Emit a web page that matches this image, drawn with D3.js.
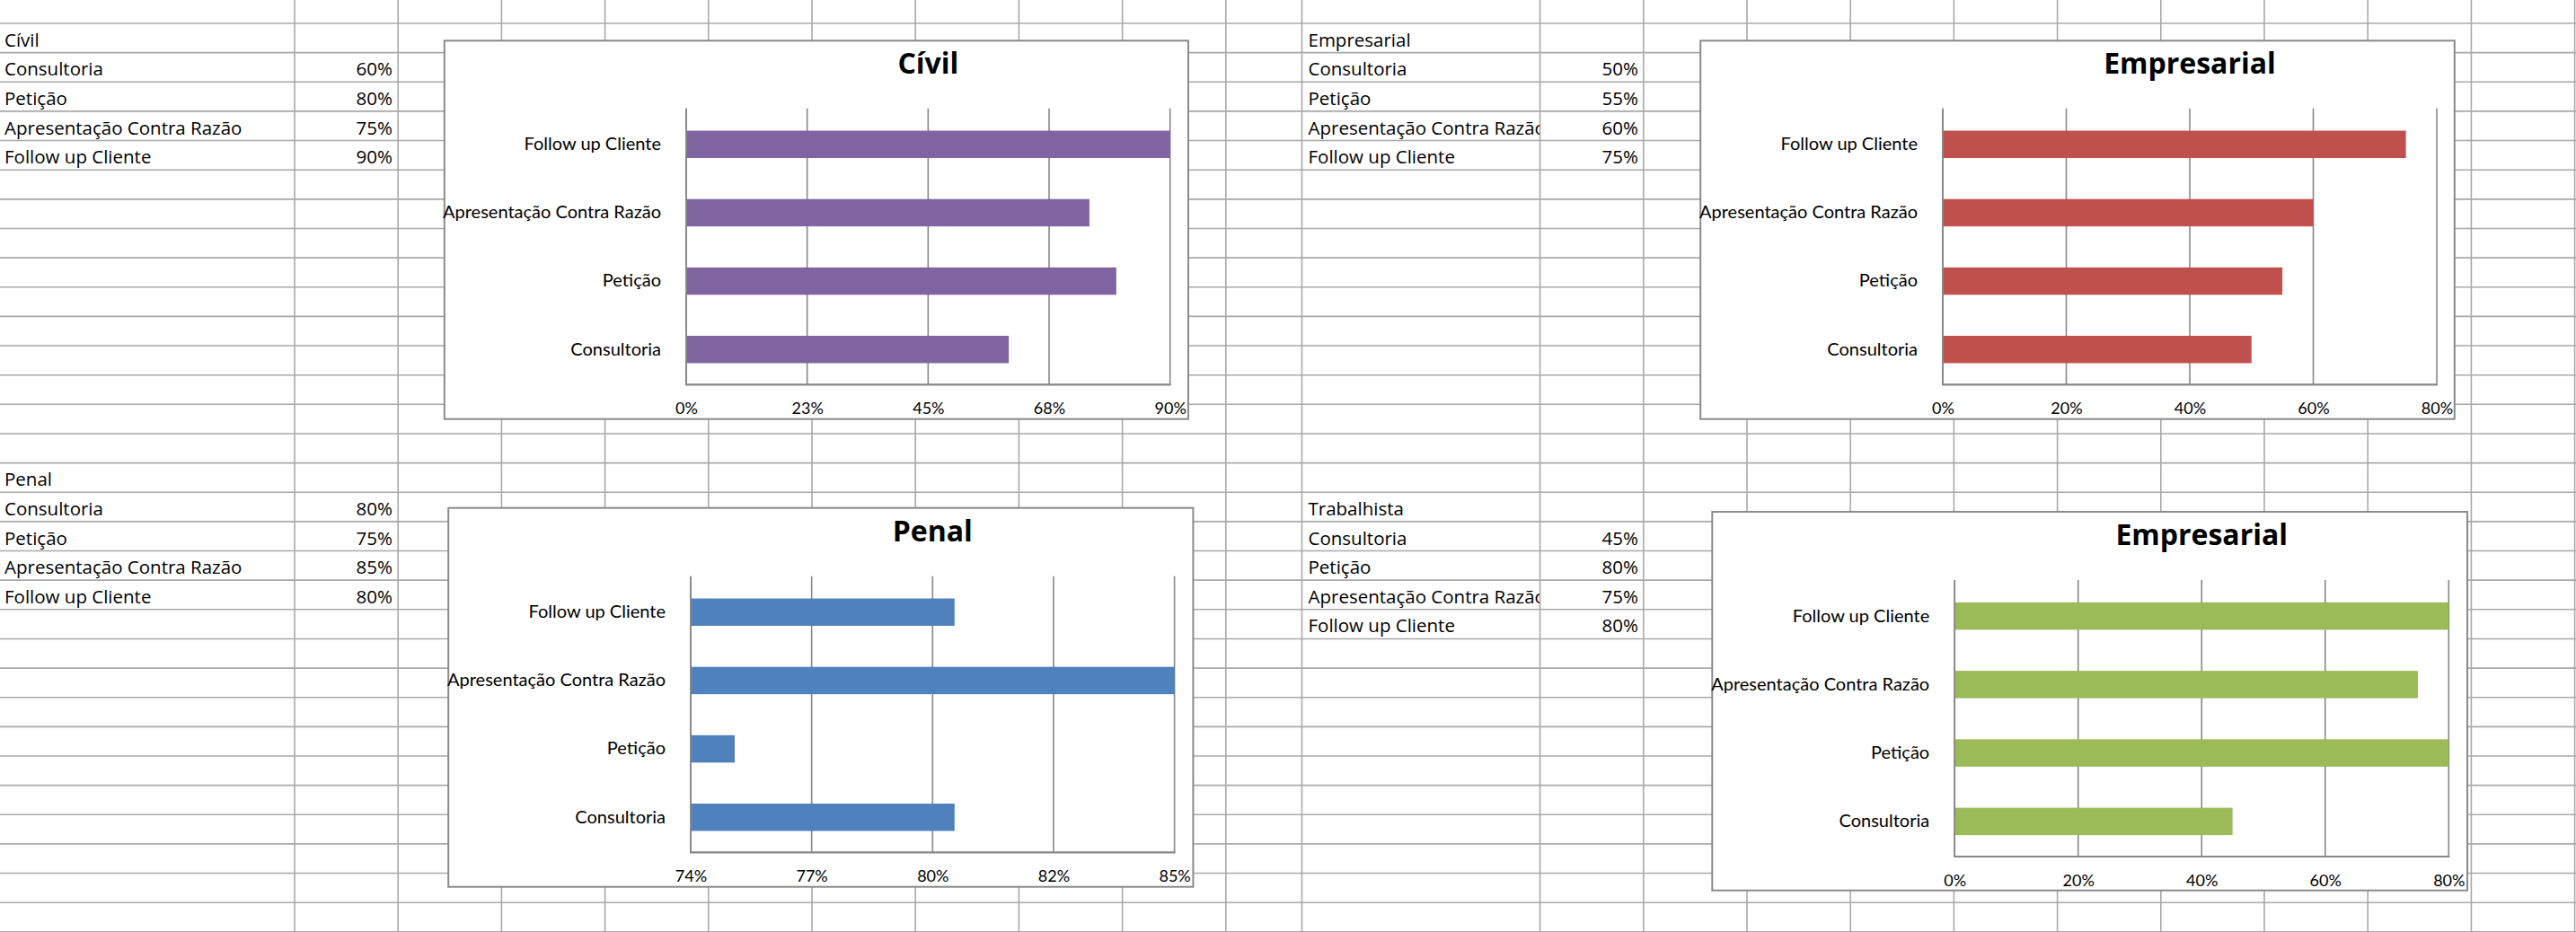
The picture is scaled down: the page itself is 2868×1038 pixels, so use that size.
<!DOCTYPE html>
<html><head><meta charset="utf-8">
<script src="https://cdn.jsdelivr.net/npm/d3@7"></script>
<style>html,body{margin:0;padding:0;background:#fff;overflow:hidden}</style>
</head><body><svg id="sheet" width="2868" height="1038"></svg>
<script>
// ---------------- DATA ----------------
const categories = ["Consultoria", "Petição", "Apresentação Contra Razão", "Follow up Cliente"];
const civilValues = [0.60, 0.80, 0.75, 0.90];
const empresarialValues = [0.50, 0.55, 0.60, 0.75];
const penalValues = [0.80, 0.75, 0.85, 0.80];
const trabalhistaValues = [0.45, 0.80, 0.75, 0.80];

const blockNames = ["Cívil", "Empresarial", "Penal", "Trabalhista"];
const chartTitles = ["Cívil", "Empresarial", "Penal", "Empresarial"];

const civilTicks = [0, 0.225, 0.45, 0.675, 0.9];
const civilTickLabels = ["0%", "23%", "45%", "68%", "90%"];
const empresarialTicks = [0, 0.2, 0.4, 0.6, 0.8];
const empresarialTickLabels = ["0%", "20%", "40%", "60%", "80%"];
const penalTicks = [0.74, 0.7675, 0.795, 0.8225, 0.85];
const penalTickLabels = ["74%", "77%", "80%", "82%", "85%"];
const trabalhistaTicks = [0, 0.2, 0.4, 0.6, 0.8];
const trabalhistaTickLabels = ["0%", "20%", "40%", "60%", "80%"];

// ---------------- LAYOUT ----------------
const W = 2868, H = 1038;
const svg = d3.select("#sheet");
const pct = d3.format(".0%");

// spreadsheet grid
const colLines = [];
for (let k = 0; k < 10; k++) colLines.push(328 + 115.2 * k);
colLines.push(1449.5, 1714.6);
for (let k = 0; k < 10; k++) colLines.push(1829.8 + 115.2 * k);
const rowH = 32.64, row0 = 26;
const rowLines = d3.range(-1, 32).map(i => row0 + rowH * i);

const grid = svg.append("g").attr("stroke", "#a9a9a9").attr("stroke-width", 1.6);
grid.selectAll("line.v").data(colLines).join("line").attr("class", "v")
  .attr("x1", d => d).attr("x2", d => d).attr("y1", 0).attr("y2", H);
grid.selectAll("line.h").data(rowLines).join("line").attr("class", "h")
  .attr("x1", 0).attr("x2", W).attr("y1", d => d).attr("y2", d => d);

// cell blocks
const blocks = [
  {name: blockNames[0], values: civilValues, labelX: 5, valueRight: 437, clipRight: 443, startRow: 0},
  {name: blockNames[1], values: empresarialValues, labelX: 1456.5, valueRight: 1824, clipRight: 1714, startRow: 0},
  {name: blockNames[2], values: penalValues, labelX: 5, valueRight: 437, clipRight: 443, startRow: 15},
  {name: blockNames[3], values: trabalhistaValues, labelX: 1456.5, valueRight: 1824, clipRight: 1714, startRow: 16}
];
const defs = svg.append("defs");
blocks.forEach((b, bi) => {
  defs.append("clipPath").attr("id", "clip" + bi).append("rect")
    .attr("x", b.labelX - 10).attr("y", 0).attr("width", b.clipRight - b.labelX + 10).attr("height", H);
  const g = svg.append("g").attr("font-family", "'Open Sans', sans-serif").attr("font-size", 20.5).attr("fill", "#000");
  const base = r => row0 + rowH * (r + 1) - 7;
  g.append("text").attr("x", b.labelX).attr("y", base(b.startRow)).text(b.name);
  g.append("g").attr("clip-path", `url(#clip${bi})`).selectAll("text").data(categories).join("text")
    .attr("x", b.labelX).attr("y", (d, i) => base(b.startRow + 1 + i)).text(d => d);
  g.selectAll("text.v").data(b.values).join("text").attr("class", "v")
    .attr("text-anchor", "end").attr("x", b.valueRight)
    .attr("y", (d, i) => base(b.startRow + 1 + i)).text(d => pct(d));
});

// charts
const charts = [
  {title: chartTitles[0], values: civilValues, color: "#8064a2", ticks: civilTicks, labels: civilTickLabels,
   domain: [0, 0.9], box: [494.8, 45.3, 1323, 466.7], plot: [764, 120.7, 1302.7, 428.3]},
  {title: chartTitles[1], values: empresarialValues, color: "#c0504d", ticks: empresarialTicks, labels: empresarialTickLabels,
   domain: [0, 0.8], box: [1893.2, 45.3, 2732.8, 466.7], plot: [2163, 120.7, 2713, 428.3]},
  {title: chartTitles[2], values: penalValues, color: "#4f81bd", ticks: penalTicks, labels: penalTickLabels,
   domain: [0.74, 0.85], box: [499.2, 565.7, 1328.4, 987.7], plot: [769, 641.7, 1307.6, 949.3]},
  {title: chartTitles[3], values: trabalhistaValues, color: "#9bbb59", ticks: trabalhistaTicks, labels: trabalhistaTickLabels,
   domain: [0, 0.8], box: [1906.3, 570, 2747, 991.7], plot: [2176.2, 646, 2726.3, 954]}
];

charts.forEach(c => {
  const [bx0, by0, bx1, by1] = c.box;
  const [px0, py0, px1, py1] = c.plot;
  const g = svg.append("g");
  g.append("rect").attr("x", bx0).attr("y", by0).attr("width", bx1 - bx0).attr("height", by1 - by0)
    .attr("fill", "#fff").attr("stroke", "#8a8a8a").attr("stroke-width", 2);

  const x = d3.scaleLinear().domain(c.domain).range([px0, px1]);
  const y = d3.scaleBand().domain(categories.slice().reverse()).range([py0 + 2, py1 - 1])
    .paddingInner(0.6).paddingOuter(0.3);
  const data = categories.map((k, i) => ({k, v: c.values[i]}));

  // gridlines
  g.append("g").selectAll("line").data(c.ticks).join("line")
    .attr("x1", d => x(d)).attr("x2", d => x(d)).attr("y1", py0).attr("y2", py1)
    .attr("stroke", "#878787").attr("stroke-width", 1.6);

  // bars
  g.append("g").selectAll("rect").data(data).join("rect")
    .attr("x", x(c.domain[0])).attr("y", d => y(d.k))
    .attr("width", d => x(d.v) - x(c.domain[0])).attr("height", y.bandwidth())
    .attr("fill", c.color);

  // axis lines
  g.append("line").attr("x1", px0).attr("x2", px0).attr("y1", py0).attr("y2", py1)
    .attr("stroke", "#878787").attr("stroke-width", 1.8);
  g.append("line").attr("x1", px0 - 1).attr("x2", px1 + 1).attr("y1", py1).attr("y2", py1)
    .attr("stroke", "#878787").attr("stroke-width", 2.2);

  // x tick labels
  const xa = g.append("g").attr("transform", `translate(0,${py1})`)
    .call(d3.axisBottom(x).tickValues(c.ticks).tickFormat((d, i) => c.labels[i]).tickSize(0).tickPadding(20));
  xa.select(".domain").remove();
  xa.selectAll("text").attr("font-family", "Lato, sans-serif").attr("font-size", 18).attr("fill", "#000");

  // y category labels
  const ya = g.append("g").attr("transform", `translate(${px0},0)`)
    .call(d3.axisLeft(y).tickSize(0).tickPadding(28));
  ya.select(".domain").remove();
  ya.selectAll("text").attr("font-family", "Lato, sans-serif").attr("font-size", 20).attr("fill", "#000");

  // title
  g.append("text").attr("x", (px0 + px1) / 2).attr("y", by0 + 37).attr("text-anchor", "middle")
    .attr("font-family", "'Open Sans', sans-serif").attr("font-weight", "bold").attr("font-size", 32)
    .attr("fill", "#000").text(c.title);
});
</script></body></html>
